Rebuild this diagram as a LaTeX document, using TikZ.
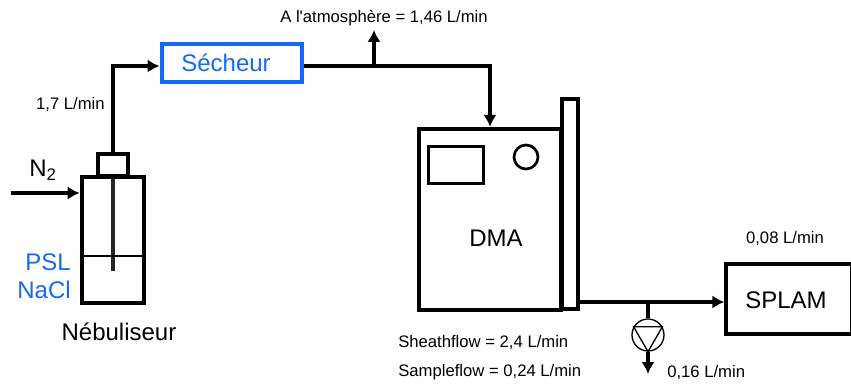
\documentclass[tikz,border=0pt]{standalone}
\usepackage{fontspec}
\setmainfont{Liberation Sans}
\newfontfamily\labelfont{Liberation Sans}
\usepackage{tikz}
\usetikzlibrary{arrows.meta}
\definecolor{SecheurBlue}{RGB}{20, 105, 245}
\tikzset{
    box/.style={draw, line width=3pt, inner sep=0pt},
    flow/.style={line width=3pt, -{Latex[length=9pt,width=10pt]}},
    pipe/.style={line width=3pt},
    label/.style={font=\labelfont\fontsize{12.5}{14}\selectfont, inner sep=0pt},
    biglabel/.style={font=\fontsize{18}{20}\selectfont, inner sep=0pt},
    bluelabel/.style={biglabel, text=SecheurBlue}
}
\begin{document}
\begin{tikzpicture}[x=0.75pt, y=-0.75pt]
    \useasboundingbox (0,0) rectangle (851,385);
    % Nebuliseur
    \node[box, minimum width=47pt, minimum height=94pt] (nebuliseur) at (113,240) {};
    \node[box, minimum width=23pt, minimum height=17pt] (neck) at (113,165) {};
    \coordinate (tubeend) at (113,271);
    \draw[line width=2.6pt, black!85] (neck.south) -- (tubeend);
    \draw[line width=0.8pt] (nebuliseur.west |- 0,256) -- (nebuliseur.east |- 0,256);
    \coordinate (n2start) at (11,193);
    \draw[flow] (n2start) -- (n2start -| nebuliseur.west);
    \node[biglabel] (n2) at (43,170) {N\textsubscript{2}};
    \node[bluelabel, anchor=east] (psl) at (71,262) {PSL};
    \node[bluelabel, anchor=east] (nacl) at (71,290) {NaCl};
    \node[biglabel] (nebtext) at (119,332) {Nébuliseur};
    % Secheur
    \node[draw=SecheurBlue, line width=3pt, minimum width=105pt, minimum height=28pt, inner sep=0pt] (secheur) at (231.5,63) {};
    \node[bluelabel] (sechtext) at (226,63) {Sécheur};
    \coordinate (corner1) at (113,66);
    \draw[flow] (neck.north) -- (corner1) -- (secheur.west |- corner1);
    \node[label, anchor=east] (flow17) at (105,105) {1,7 L/min};
    % DMA
    \node[box, minimum width=106pt, minimum height=136pt] (dma) at (490,219.5) {};
    \node[box, minimum width=12pt, minimum height=158pt] (column) at (570,204) {};
    \node[box, minimum width=41pt, minimum height=28pt, line width=2.6pt] (screen) at (456,165) {};
    \node[draw, circle, line width=2pt, minimum size=18pt, inner sep=0pt] (knob) at (526,157) {};
    \node[biglabel] (dmatext) at (496,238) {DMA};
    \node[label, anchor=west] (sheath) at (398,343) {Sheathflow = 2,4 L/min};
    \node[label, anchor=west] (sample) at (398,372) {Sampleflow = 0,24 L/min};
    % Sortie du secheur
    \coordinate (corner2) at (490,66);
    \coordinate (tee1) at (374,66);
    \coordinate (atmo) at (374,30);
    \draw[flow] (secheur.east |- corner2) -- (corner2) -- (dma.north -| corner2);
    \draw[flow] (tee1) -- (atmo);
    \node[label] (atmotext) at (384,18) {A l'atmosphère = 1,46 L/min};
    % SPLAM
    \node[box, minimum width=94pt, minimum height=52pt] (splam) at (789,299) {};
    \node[biglabel] (splamtext) at (786,300) {SPLAM};
    \node[label] (flow008) at (785,239) {0,08 L/min};
    \coordinate (tee2) at (648,302);
    \draw[flow] (column.east |- tee2) -- (splam.west |- tee2);
    % Pompe
    \node[draw, circle, line width=1pt, minimum size=24pt, inner sep=0pt] (pump) at (648,335) {};
    \draw[line width=1pt] (pump.150) -- (pump.30) -- (pump.south) -- cycle;
    \coordinate (pumpout) at (648,374);
    \draw[pipe] (tee2) -- (pump.north);
    \draw[flow] (pump.south) -- (pumpout);
    \node[label, anchor=west] (flow016) at (667,373) {0,16 L/min};
\end{tikzpicture}
\end{document}
